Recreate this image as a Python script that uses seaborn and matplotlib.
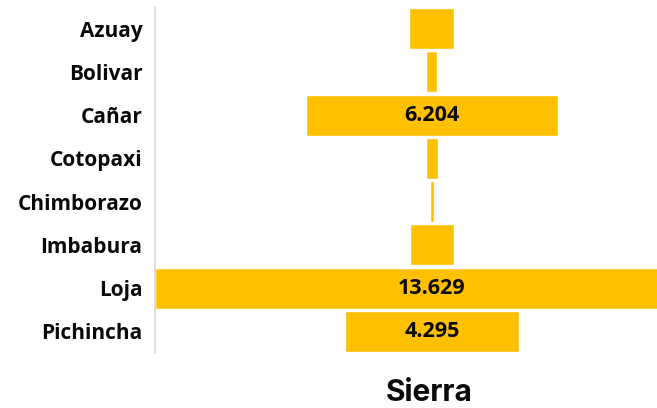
import matplotlib
matplotlib.use("Agg")
import matplotlib.pyplot as plt
import seaborn as sns
import pandas as pd

# data
provincias = ["Azuay", "Bolivar", "Cañar", "Cotopaxi", "Chimborazo",
              "Imbabura", "Loja", "Pichincha"]
valores = [1.106, 0.27, 6.204, 0.30, 0.12, 1.06, 13.629, 4.295]
etiquetas = ["", "", "6.204", "", "", "", "13.629", "4.295"]
titulo = "Sierra"

df = pd.DataFrame({"provincia": provincias, "valor": valores})

sns.set_style("white")
plt.rcParams["font.family"] = ["Open Sans", "DejaVu Sans"]

fig = plt.figure(figsize=(6.57, 4.08), dpi=100)
ax = fig.add_axes([0.236, 0.135, 0.843, 0.848])

sns.barplot(data=df, x="valor", y="provincia", orient="y",
            color="#FFC000", saturation=1, width=0.95, ax=ax)

# funnel style: centre every bar on zero
for patch, v in zip(ax.patches, valores):
    patch.set_x(-v / 2)

for i, txt in enumerate(etiquetas):
    if txt:
        ax.text(0, i, txt, ha="center", va="center", fontsize=15.5,
                fontweight="bold", color="#0a0a0a")

half = 6.81
ax.set_xlim(-half, half)
ax.set_ylim(7.5, -0.5)
ax.set_xticks([])
ax.set_xlabel("")
ax.set_ylabel("")
ax.tick_params(axis="y", length=0, pad=9)
for lab in ax.get_yticklabels():
    lab.set_fontweight("bold")
    lab.set_fontsize(15)
    lab.set_color("#0a0a0a")

for side in ["top", "right", "bottom"]:
    ax.spines[side].set_visible(False)
ax.spines["left"].set_color("#d9d9d9")
ax.spines["left"].set_linewidth(1.2)
ax.set_zorder(1)

fig.text(429.5 / 657, 7 / 408, titulo, ha="center", va="baseline",
         fontsize=21.5, fontweight="bold", color="#0a0a0a",
         family=["Inter", "DejaVu Sans"])

fig.savefig("out.png", dpi=100)
